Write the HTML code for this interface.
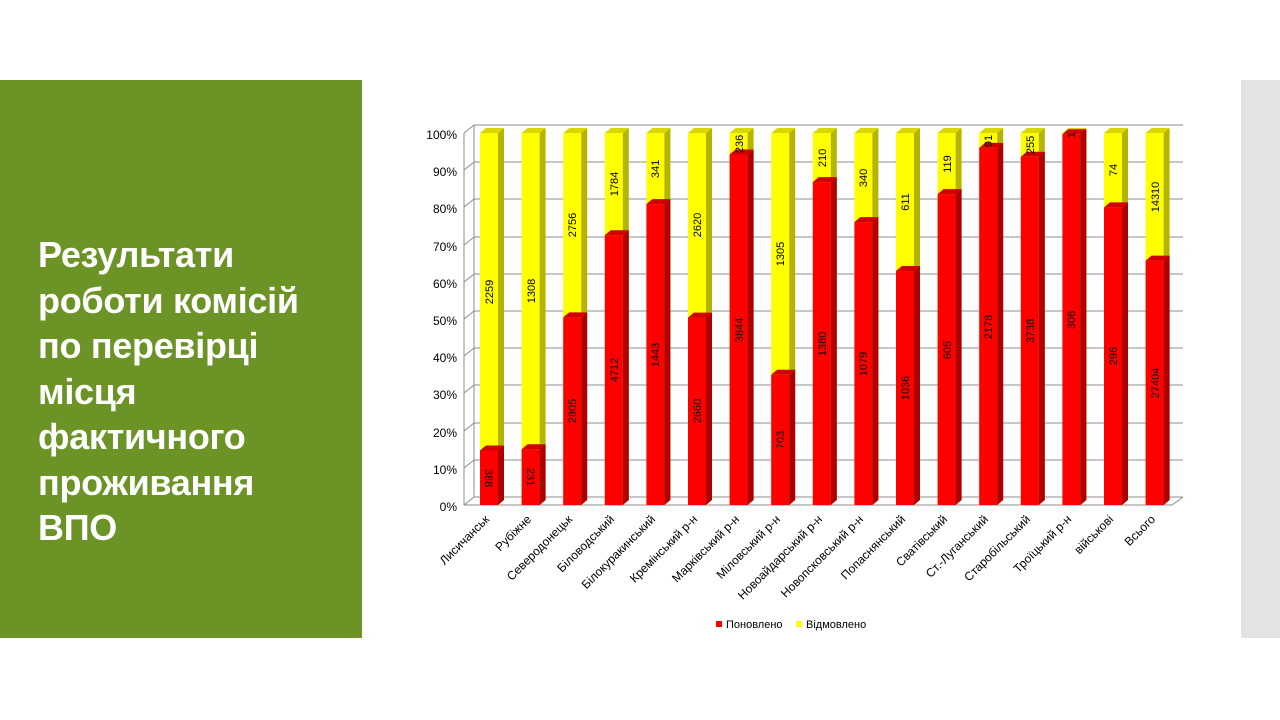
<!DOCTYPE html>
<html><head><meta charset="utf-8"><style>
body{margin:0;width:1280px;height:720px;background:#fff;overflow:hidden;font-family:"Liberation Sans",sans-serif}
.green{position:absolute;left:0;top:80px;width:362px;height:558px;background:#6b9325}
.grey{position:absolute;left:1241px;top:80px;width:39px;height:558px;background:#e3e3e3}
.title{position:absolute;left:38px;top:232px;color:#fff;font-weight:bold;font-size:36px;line-height:45.5px;font-family:"Liberation Sans",sans-serif;letter-spacing:-0.3px}
svg{position:absolute;left:0;top:0}
</style></head><body>
<div class="green"></div><div class="grey"></div>
<div class="title">Результати<br>роботи комісій<br>по перевірці<br>місця<br>фактичного<br>проживання<br>ВПО</div>
<svg width="1280" height="720" font-family="Liberation Sans, sans-serif">
<g stroke="#8c8c8c" stroke-width="1" fill="none">
<path d="M464,505 L474,497 H1183 M464,468 L474,460 H1183 M464,431 L474,423 H1183 M464,393 L474,385 H1183 M464,356 L474,348 H1183 M464,319 L474,311 H1183 M464,282 L474,274 H1183 M464,245 L474,237 H1183 M464,207 L474,199 H1183 M464,170 L474,162 H1183 M464,133 L474,125 H1183"/>
<path d="M474,125 V497 M464,133 V505 H1172 L1183,497"/>
</g>
<g font-size="12" text-anchor="end" fill="#000">
<text x="457" y="511">0%</text><text x="457" y="474">10%</text><text x="457" y="437">20%</text><text x="457" y="399">30%</text><text x="457" y="362">40%</text><text x="457" y="325">50%</text><text x="457" y="288">60%</text><text x="457" y="251">70%</text><text x="457" y="213">80%</text><text x="457" y="176">90%</text><text x="457" y="139">100%</text>
</g>
<g id="bars">
<g transform="translate(480,0)"><rect x="0" y="133" width="18" height="372" fill="#ffff00"/><polygon points="18,133 24,128 24,500 18,505" fill="#b5b500"/><polygon points="0,133 6,128 24,128 18,133" fill="#d8d800"/><rect x="0" y="450.5" width="18" height="54.5" fill="#ff0000"/><polygon points="18,450.5 24,445.5 24,500 18,505" fill="#b00000"/><polygon points="0,450.5 6,445.5 24,445.5 18,450.5" fill="#d00000"/></g>
<g transform="translate(521.6,0)"><rect x="0" y="133" width="18" height="372" fill="#ffff00"/><polygon points="18,133 24,128 24,500 18,505" fill="#b5b500"/><polygon points="0,133 6,128 24,128 18,133" fill="#d8d800"/><rect x="0" y="449.2" width="18" height="55.8" fill="#ff0000"/><polygon points="18,449.2 24,444.2 24,500 18,505" fill="#b00000"/><polygon points="0,449.2 6,444.2 24,444.2 18,449.2" fill="#d00000"/></g>
<g transform="translate(563.2,0)"><rect x="0" y="133" width="18" height="372" fill="#ffff00"/><polygon points="18,133 24,128 24,500 18,505" fill="#b5b500"/><polygon points="0,133 6,128 24,128 18,133" fill="#d8d800"/><rect x="0" y="317.4" width="18" height="187.6" fill="#ff0000"/><polygon points="18,317.4 24,312.4 24,500 18,505" fill="#b00000"/><polygon points="0,317.4 6,312.4 24,312.4 18,317.4" fill="#d00000"/></g>
<g transform="translate(604.8,0)"><rect x="0" y="133" width="18" height="372" fill="#ffff00"/><polygon points="18,133 24,128 24,500 18,505" fill="#b5b500"/><polygon points="0,133 6,128 24,128 18,133" fill="#d8d800"/><rect x="0" y="235.2" width="18" height="269.8" fill="#ff0000"/><polygon points="18,235.2 24,230.2 24,500 18,505" fill="#b00000"/><polygon points="0,235.2 6,230.2 24,230.2 18,235.2" fill="#d00000"/></g>
<g transform="translate(646.4,0)"><rect x="0" y="133" width="18" height="372" fill="#ffff00"/><polygon points="18,133 24,128 24,500 18,505" fill="#b5b500"/><polygon points="0,133 6,128 24,128 18,133" fill="#d8d800"/><rect x="0" y="204.1" width="18" height="300.9" fill="#ff0000"/><polygon points="18,204.1 24,199.1 24,500 18,505" fill="#b00000"/><polygon points="0,204.1 6,199.1 24,199.1 18,204.1" fill="#d00000"/></g>
<g transform="translate(688,0)"><rect x="0" y="133" width="18" height="372" fill="#ffff00"/><polygon points="18,133 24,128 24,500 18,505" fill="#b5b500"/><polygon points="0,133 6,128 24,128 18,133" fill="#d8d800"/><rect x="0" y="317.6" width="18" height="187.4" fill="#ff0000"/><polygon points="18,317.6 24,312.6 24,500 18,505" fill="#b00000"/><polygon points="0,317.6 6,312.6 24,312.6 18,317.6" fill="#d00000"/></g>
<g transform="translate(729.6,0)"><rect x="0" y="133" width="18" height="372" fill="#ffff00"/><polygon points="18,133 24,128 24,500 18,505" fill="#b5b500"/><polygon points="0,133 6,128 24,128 18,133" fill="#d8d800"/><rect x="0" y="154.5" width="18" height="350.5" fill="#ff0000"/><polygon points="18,154.5 24,149.5 24,500 18,505" fill="#b00000"/><polygon points="0,154.5 6,149.5 24,149.5 18,154.5" fill="#d00000"/></g>
<g transform="translate(771.2,0)"><rect x="0" y="133" width="18" height="372" fill="#ffff00"/><polygon points="18,133 24,128 24,500 18,505" fill="#b5b500"/><polygon points="0,133 6,128 24,128 18,133" fill="#d8d800"/><rect x="0" y="374.8" width="18" height="130.2" fill="#ff0000"/><polygon points="18,374.8 24,369.8 24,500 18,505" fill="#b00000"/><polygon points="0,374.8 6,369.8 24,369.8 18,374.8" fill="#d00000"/></g>
<g transform="translate(812.8,0)"><rect x="0" y="133" width="18" height="372" fill="#ffff00"/><polygon points="18,133 24,128 24,500 18,505" fill="#b5b500"/><polygon points="0,133 6,128 24,128 18,133" fill="#d8d800"/><rect x="0" y="182.1" width="18" height="322.9" fill="#ff0000"/><polygon points="18,182.1 24,177.1 24,500 18,505" fill="#b00000"/><polygon points="0,182.1 6,177.1 24,177.1 18,182.1" fill="#d00000"/></g>
<g transform="translate(854.4,0)"><rect x="0" y="133" width="18" height="372" fill="#ffff00"/><polygon points="18,133 24,128 24,500 18,505" fill="#b5b500"/><polygon points="0,133 6,128 24,128 18,133" fill="#d8d800"/><rect x="0" y="222.1" width="18" height="282.9" fill="#ff0000"/><polygon points="18,222.1 24,217.1 24,500 18,505" fill="#b00000"/><polygon points="0,222.1 6,217.1 24,217.1 18,222.1" fill="#d00000"/></g>
<g transform="translate(896,0)"><rect x="0" y="133" width="18" height="372" fill="#ffff00"/><polygon points="18,133 24,128 24,500 18,505" fill="#b5b500"/><polygon points="0,133 6,128 24,128 18,133" fill="#d8d800"/><rect x="0" y="271" width="18" height="234" fill="#ff0000"/><polygon points="18,271 24,266 24,500 18,505" fill="#b00000"/><polygon points="0,271 6,266 24,266 18,271" fill="#d00000"/></g>
<g transform="translate(937.6,0)"><rect x="0" y="133" width="18" height="372" fill="#ffff00"/><polygon points="18,133 24,128 24,500 18,505" fill="#b5b500"/><polygon points="0,133 6,128 24,128 18,133" fill="#d8d800"/><rect x="0" y="194.1" width="18" height="310.9" fill="#ff0000"/><polygon points="18,194.1 24,189.1 24,500 18,505" fill="#b00000"/><polygon points="0,194.1 6,189.1 24,189.1 18,194.1" fill="#d00000"/></g>
<g transform="translate(979.2,0)"><rect x="0" y="133" width="18" height="372" fill="#ffff00"/><polygon points="18,133 24,128 24,500 18,505" fill="#b5b500"/><polygon points="0,133 6,128 24,128 18,133" fill="#d8d800"/><rect x="0" y="147.9" width="18" height="357.1" fill="#ff0000"/><polygon points="18,147.9 24,142.9 24,500 18,505" fill="#b00000"/><polygon points="0,147.9 6,142.9 24,142.9 18,147.9" fill="#d00000"/></g>
<g transform="translate(1020.8,0)"><rect x="0" y="133" width="18" height="372" fill="#ffff00"/><polygon points="18,133 24,128 24,500 18,505" fill="#b5b500"/><polygon points="0,133 6,128 24,128 18,133" fill="#d8d800"/><rect x="0" y="156.8" width="18" height="348.2" fill="#ff0000"/><polygon points="18,156.8 24,151.8 24,500 18,505" fill="#b00000"/><polygon points="0,156.8 6,151.8 24,151.8 18,156.8" fill="#d00000"/></g>
<g transform="translate(1062.4,0)"><rect x="0" y="133" width="18" height="372" fill="#ffff00"/><polygon points="18,133 24,128 24,500 18,505" fill="#b5b500"/><polygon points="0,133 6,128 24,128 18,133" fill="#d8d800"/><rect x="0" y="134.2" width="18" height="370.8" fill="#ff0000"/><polygon points="18,134.2 24,129.2 24,500 18,505" fill="#b00000"/><polygon points="0,134.2 6,129.2 24,129.2 18,134.2" fill="#d00000"/></g>
<g transform="translate(1104,0)"><rect x="0" y="133" width="18" height="372" fill="#ffff00"/><polygon points="18,133 24,128 24,500 18,505" fill="#b5b500"/><polygon points="0,133 6,128 24,128 18,133" fill="#d8d800"/><rect x="0" y="207.4" width="18" height="297.6" fill="#ff0000"/><polygon points="18,207.4 24,202.4 24,500 18,505" fill="#b00000"/><polygon points="0,207.4 6,202.4 24,202.4 18,207.4" fill="#d00000"/></g>
<g transform="translate(1145.6,0)"><rect x="0" y="133" width="18" height="372" fill="#ffff00"/><polygon points="18,133 24,128 24,500 18,505" fill="#b5b500"/><polygon points="0,133 6,128 24,128 18,133" fill="#d8d800"/><rect x="0" y="260.6" width="18" height="244.4" fill="#ff0000"/><polygon points="18,260.6 24,255.6 24,500 18,505" fill="#b00000"/><polygon points="0,260.6 6,255.6 24,255.6 18,260.6" fill="#d00000"/></g>
</g>
<g font-size="11" text-anchor="middle" fill="#000">
<text transform="translate(485,478) rotate(90)">388</text><text transform="translate(493,292) rotate(-90)">2259</text>
<text transform="translate(527,477) rotate(90)">231</text><text transform="translate(535,291) rotate(-90)">1308</text>
<text transform="translate(576,411) rotate(-90)">2805</text><text transform="translate(576,225) rotate(-90)">2756</text>
<text transform="translate(618,370) rotate(-90)">4712</text><text transform="translate(618,184) rotate(-90)">1784</text>
<text transform="translate(659,355) rotate(-90)">1443</text><text transform="translate(659,169) rotate(-90)">341</text>
<text transform="translate(701,411) rotate(-90)">2660</text><text transform="translate(701,225) rotate(-90)">2620</text>
<text transform="translate(743,330) rotate(-90)">3844</text><text transform="translate(743,144) rotate(-90)">236</text>
<text transform="translate(784,440) rotate(-90)">703</text><text transform="translate(784,254) rotate(-90)">1305</text>
<text transform="translate(826,344) rotate(-90)">1380</text><text transform="translate(826,158) rotate(-90)">210</text>
<text transform="translate(867,364) rotate(-90)">1079</text><text transform="translate(867,178) rotate(-90)">340</text>
<text transform="translate(909,388) rotate(-90)">1036</text><text transform="translate(909,202) rotate(-90)">611</text>
<text transform="translate(951,350) rotate(-90)">605</text><text transform="translate(951,164) rotate(-90)">119</text>
<text transform="translate(992,327) rotate(-90)">2178</text><text transform="translate(992,141) rotate(-90)">91</text>
<text transform="translate(1034,331) rotate(-90)">3738</text><text transform="translate(1034,145) rotate(-90)">255</text>
<text transform="translate(1075,320) rotate(-90)">306</text><text transform="translate(1075,135) rotate(-90)">1</text>
<text transform="translate(1117,356) rotate(-90)">296</text><text transform="translate(1117,170) rotate(-90)">74</text>
<text transform="translate(1159,383) rotate(-90)">27404</text><text transform="translate(1159,197) rotate(-90)">14310</text>
</g>
<g font-size="12" text-anchor="end" fill="#000">
<text transform="translate(490,520) rotate(-45)">Лисичанськ</text>
<text transform="translate(532,520) rotate(-45)">Рубіжне</text>
<text transform="translate(573,520) rotate(-45)">Северодонецьк</text>
<text transform="translate(615,520) rotate(-45)">Біловодський</text>
<text transform="translate(656,520) rotate(-45)">Білокуракинський</text>
<text transform="translate(698,520) rotate(-45)">Кремінський  р-н</text>
<text transform="translate(740,520) rotate(-45)">Марківський р-н</text>
<text transform="translate(781,520) rotate(-45)">Міловський р-н</text>
<text transform="translate(823,520) rotate(-45)">Новоайдарський р-н</text>
<text transform="translate(864,520) rotate(-45)">Новопсковський р-н</text>
<text transform="translate(906,520) rotate(-45)">Попаснянський</text>
<text transform="translate(948,520) rotate(-45)">Сватівський</text>
<text transform="translate(989,520) rotate(-45)">Ст.-Луганський</text>
<text transform="translate(1031,520) rotate(-45)">Старобільський</text>
<text transform="translate(1072,520) rotate(-45)">Троїцький р-н</text>
<text transform="translate(1114,520) rotate(-45)">військові</text>
<text transform="translate(1156,520) rotate(-45)">Всього</text>
</g>
<rect x="716" y="621" width="6" height="6" fill="#ff0000"/>
<text x="726" y="628" font-size="11">Поновлено</text>
<rect x="796" y="621" width="6" height="6" fill="#ffff00"/>
<text x="806" y="628" font-size="11">Відмовлено</text>
</svg>
</body></html>
